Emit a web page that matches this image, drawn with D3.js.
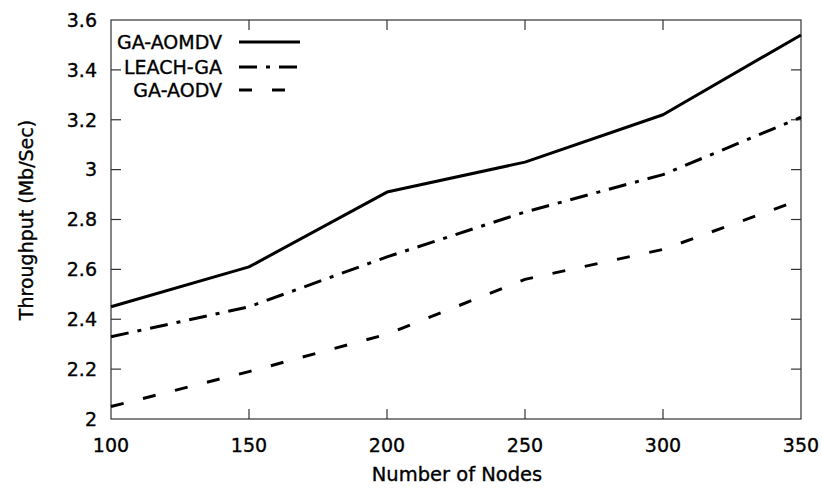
<!DOCTYPE html>
<html>
<head>
<meta charset="utf-8">
<script src="https://cdn.jsdelivr.net/npm/d3@7"></script>
<style>
  body { margin: 0; background: #fff; }
  svg { display: block; }
  text { font-family: "DejaVu Sans", sans-serif; fill: #000; stroke: #000; stroke-width: 0.35px; }
</style>
</head>
<body>
<svg id="chart" width="822" height="490"></svg>
<script>
const nodes = [100, 150, 200, 250, 300, 350];
const gaAomdv = [2.45, 2.61, 2.91, 3.03, 3.22, 3.54];
const leachGa = [2.33, 2.45, 2.65, 2.83, 2.98, 3.21];
const gaAodv = [2.05, 2.19, 2.34, 2.56, 2.68, 2.88];
const yTicks = [2, 2.2, 2.4, 2.6, 2.8, 3, 3.2, 3.4, 3.6];
const xTicks = [100, 150, 200, 250, 300, 350];
const seriesNames = ["GA-AOMDV", "LEACH-GA", "GA-AODV"];

const series = [
  { name: seriesNames[0], values: gaAomdv, dash: null },
  { name: seriesNames[1], values: leachGa, dash: "18,9,4,9" },
  { name: seriesNames[2], values: gaAodv, dash: "13,20" }
];

const svg = d3.select("#chart");
const L = 111, R = 801, T = 20, B = 419;
const x = d3.scaleLinear().domain([100, 350]).range([L, R]);
const y = d3.scaleLinear().domain([2, 3.6]).range([B, T]);
const tickLen = 10;

// frame
svg.append("rect").attr("x", L).attr("y", T).attr("width", R - L).attr("height", B - T)
  .attr("fill", "none").attr("stroke", "#333").attr("stroke-width", 1.2);

// inward ticks
const g = svg.append("g").attr("stroke", "#333").attr("stroke-width", 1.2);
xTicks.slice(1, -1).forEach(v => {
  g.append("line").attr("x1", x(v)).attr("x2", x(v)).attr("y1", B).attr("y2", B - tickLen);
  g.append("line").attr("x1", x(v)).attr("x2", x(v)).attr("y1", T).attr("y2", T + tickLen);
});
yTicks.slice(1, -1).forEach(v => {
  g.append("line").attr("x1", L).attr("x2", L + tickLen).attr("y1", y(v)).attr("y2", y(v));
  g.append("line").attr("x1", R).attr("x2", R - tickLen).attr("y1", y(v)).attr("y2", y(v));
});

// tick labels
svg.append("g").selectAll("text").data(xTicks).join("text")
  .attr("x", d => x(d)).attr("y", 452).attr("text-anchor", "middle")
  .attr("font-size", 19).text(d => d);
svg.append("g").selectAll("text").data(yTicks).join("text")
  .attr("x", 97).attr("y", d => y(d)).attr("dy", "0.36em").attr("text-anchor", "end")
  .attr("font-size", 19).text(d => d3.format("")(+d.toFixed(1)));

// axis titles
svg.append("text").attr("x", 457).attr("y", 481).attr("text-anchor", "middle")
  .attr("font-size", 19.5).text("Number of Nodes");
svg.append("text").attr("transform", "translate(33,220) rotate(-90)")
  .attr("text-anchor", "middle").attr("font-size", 19).text("Throughput (Mb/Sec)");

// lines
const line = d3.line().x((d, i) => x(nodes[i])).y(d => y(d));
series.forEach(s => {
  svg.append("path").datum(s.values).attr("d", line)
    .attr("fill", "none").attr("stroke", "#000").attr("stroke-width", 3)
    .attr("stroke-linejoin", "round")
    .attr("stroke-dasharray", s.dash);
});

// legend
const legY = [42, 67, 90];
series.forEach((s, i) => {
  svg.append("text").attr("x", 222).attr("y", legY[i]).attr("dy", "0.36em")
    .attr("text-anchor", "end").attr("font-size", 19).text(s.name);
  svg.append("line").attr("x1", 239).attr("x2", 300).attr("y1", legY[i]).attr("y2", legY[i])
    .attr("stroke", "#000").attr("stroke-width", 3).attr("stroke-dasharray", s.dash);
});
</script>
</body>
</html>
